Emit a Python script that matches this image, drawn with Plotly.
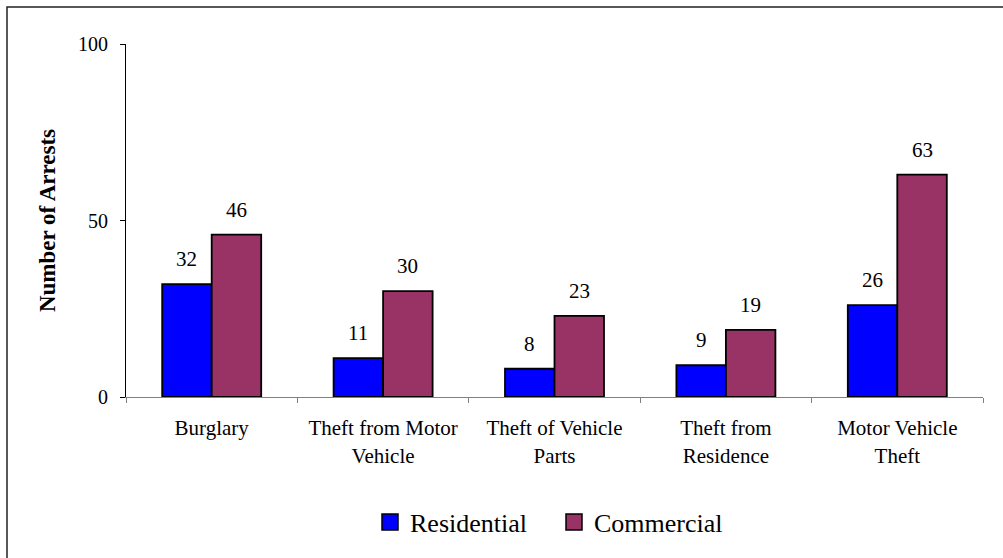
import plotly.graph_objects as go

categories = ["Burglary", "Theft from Motor<br>Vehicle", "Theft of Vehicle<br>Parts",
              "Theft from<br>Residence", "Motor Vehicle<br>Theft"]
residential = [32, 11, 8, 9, 26]
commercial = [46, 30, 23, 19, 63]
series_names = ["Residential", "Commercial"]
series_colors = ["#0000FF", "#993366"]
y_ticks = [0, 50, 100]

FONT = "Times New Roman"

W, H = 1003, 558
ML, MR, MT, MB = 126, 20, 44, 161
PW, PH = W - ML - MR, H - MT - MB
BARGAP = 0.4224
bar_px = PW / len(categories) * (1 - BARGAP) / 2

fig = go.Figure()
for name, vals, col in zip(series_names, [residential, commercial], series_colors):
    fig.add_trace(go.Bar(
        x=categories, y=vals, name=name, showlegend=False,
        marker=dict(color=col, line=dict(color="#000000", width=1.8)),
        hoverinfo="x+y",
    ))
# legend entries
for name, col in zip(series_names, series_colors):
    fig.add_trace(go.Scatter(
        x=[None], y=[None], mode="markers", name=name,
        marker=dict(symbol="square", size=16, color=col,
                    line=dict(color="#000000", width=1.5)),
    ))

annotations = []
for j, vals in enumerate([residential, commercial]):
    for c, v in zip(categories, vals):
        annotations.append(dict(
            x=c, y=v, xref="x", yref="y", text=str(v), showarrow=False,
            xanchor="center", yanchor="bottom",
            xshift=(j - 0.5) * bar_px, yshift=11,
            font=dict(family=FONT, size=21, color="#000000"),
        ))

fig.update_layout(
    width=W, height=H,
    margin=dict(l=ML, r=MR, t=MT, b=MB, autoexpand=False),
    paper_bgcolor="#FFFFFF", plot_bgcolor="#FFFFFF",
    barmode="group", bargap=BARGAP, bargroupgap=0,
    font=dict(family=FONT, size=20, color="#000000"),
    showlegend=True,
    legend=dict(orientation="h", x=(370 - ML) / PW, xanchor="left",
                y=(MB - (H - 522)) / -PH, yanchor="middle",
                entrywidth=139,
                font=dict(family=FONT, size=26, color="#000000"),
                itemsizing="trace", bgcolor="rgba(0,0,0,0)"),
    annotations=annotations,
    shapes=[dict(type="rect", xref="paper", yref="paper",
                 x0=(7 - ML) / PW, x1=(W + 20 - ML) / PW,
                 y0=-(MB + 30) / PH, y1=(H - MB - 7) / PH,
                 line=dict(color="#222222", width=1.5), fillcolor="rgba(0,0,0,0)",
                 layer="below")],
    xaxis=dict(
        type="category", showgrid=False, zeroline=False,
        showline=True, linecolor="#808080", linewidth=1,
        ticks="outside", tickson="boundaries", ticklen=5, tickcolor="#808080",
        tickfont=dict(family=FONT, size=21, color="#000000"),
        ticklabelstandoff=12,
    ),
    yaxis=dict(
        range=[0, 100], tickvals=y_ticks, showgrid=False, zeroline=False,
        showline=True, linecolor="#000000", linewidth=1,
        ticks="outside", ticklen=5, tickcolor="#000000",
        tickfont=dict(family=FONT, size=20, color="#000000"),
        ticklabelstandoff=8,
        title=dict(text="<b>Number of Arrests</b>", standoff=15,
                   font=dict(family=FONT, size=23, color="#000000")),
    ),
)

fig.write_html("out.html", config={"displayModeBar": False},
               post_script="document.body.style.margin='0';document.body.style.overflow='hidden';")
